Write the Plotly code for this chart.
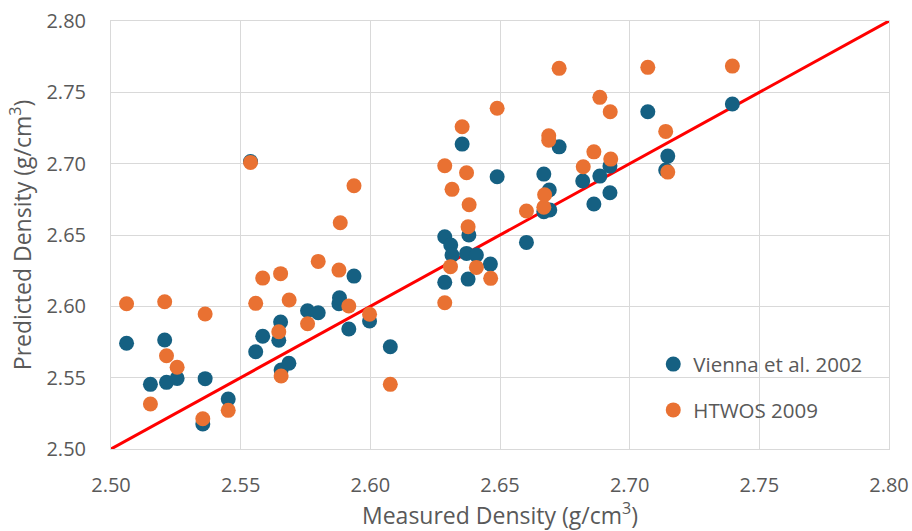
import plotly.graph_objects as go

# Measured vs predicted glass density, two literature models
vienna_measured = [
    2.5060, 2.5152, 2.5207, 2.5214, 2.5255, 2.5354, 2.5363, 2.5452, 2.5538, 2.5558,
    2.5585, 2.5647, 2.5654, 2.5656, 2.5686, 2.5758, 2.5799, 2.5879, 2.5881, 2.5917,
    2.5937, 2.5997, 2.6077, 2.6287, 2.6310, 2.6315, 2.6287, 2.6354, 2.6371, 2.6377,
    2.6380, 2.6409, 2.6463, 2.6489, 2.6602, 2.6669, 2.6669, 2.6690, 2.6692, 2.6728,
    2.6819, 2.6862, 2.6885, 2.6924, 2.6924, 2.7070, 2.7139, 2.7147, 2.7396,
]
vienna_predicted = [
    2.5741, 2.5453, 2.5764, 2.5467, 2.5495, 2.5175, 2.5493, 2.5350, 2.7015, 2.5682,
    2.5790, 2.5762, 2.5890, 2.5554, 2.5601, 2.5969, 2.5955, 2.6018, 2.6060, 2.5841,
    2.6212, 2.5897, 2.5717, 2.6488, 2.6430, 2.6360, 2.6168, 2.7137, 2.6371, 2.6191,
    2.6500, 2.6360, 2.6296, 2.6908, 2.6448, 2.6927, 2.6663, 2.6815, 2.6675, 2.7118,
    2.6878, 2.6717, 2.6913, 2.6983, 2.6796, 2.7364, 2.6955, 2.7053, 2.7418,
]

htwos_measured = [
    2.5060, 2.5152, 2.5207, 2.5214, 2.5255, 2.5354, 2.5363, 2.5452, 2.5538, 2.5558,
    2.5585, 2.5647, 2.5654, 2.5656, 2.5687, 2.5758, 2.5799, 2.5879, 2.5884, 2.5917,
    2.5937, 2.5997, 2.6077, 2.6287, 2.6315, 2.6309, 2.6287, 2.6354, 2.6371, 2.6377,
    2.6381, 2.6409, 2.6464, 2.6489, 2.6602, 2.6669, 2.6672, 2.6688, 2.6688, 2.6728,
    2.6821, 2.6862, 2.6885, 2.6925, 2.6927, 2.7070, 2.7139, 2.7147, 2.7396,
]
htwos_predicted = [
    2.6018, 2.5315, 2.6032, 2.5654, 2.5573, 2.5212, 2.5946, 2.5271, 2.7009, 2.6021,
    2.6198, 2.5822, 2.6229, 2.5512, 2.6044, 2.5878, 2.6315, 2.6254, 2.6586, 2.6002,
    2.6845, 2.5944, 2.5453, 2.6985, 2.6820, 2.6278, 2.6025, 2.7259, 2.6936, 2.6558,
    2.6712, 2.6273, 2.6196, 2.7388, 2.6668, 2.6694, 2.6782, 2.7196, 2.7165, 2.7668,
    2.6978, 2.7083, 2.7465, 2.7364, 2.7032, 2.7675, 2.7226, 2.6941, 2.7684,
]

# 1:1 reference line
parity = [2.50, 2.80]
tick_vals = [2.50, 2.55, 2.60, 2.65, 2.70, 2.75, 2.80]
tick_text = ["2.50", "2.55", "2.60", "2.65", "2.70", "2.75", "2.80"]

FONT = "Open Sans"
TEXT = "#595959"
GRID = "#D9D9D9"

fig = go.Figure()
fig.add_trace(go.Scatter(
    x=parity, y=parity, mode="lines",
    line=dict(color="#FF0000", width=3),
    showlegend=False, hoverinfo="skip",
))
fig.add_trace(go.Scatter(
    x=vienna_measured, y=vienna_predicted, mode="markers",
    name="Vienna et al. 2002",
    marker=dict(color="#156082", size=15, line=dict(width=0)),
    legend="legend",
))
fig.add_trace(go.Scatter(
    x=htwos_measured, y=htwos_predicted, mode="markers",
    name="HTWOS 2009",
    marker=dict(color="#E97132", size=15, line=dict(width=0)),
    legend="legend2",
))

axis_common = dict(
    range=[2.50, 2.80],
    tickvals=tick_vals, ticktext=tick_text,
    showgrid=True, gridcolor=GRID, gridwidth=1,
    showline=True, linecolor=GRID, linewidth=1, mirror=True,
    zeroline=False, ticks="", automargin=False,
    tickfont=dict(family=FONT, size=20, color=TEXT),
)

legend_common = dict(
    font=dict(family=FONT, size=20.5, color=TEXT),
    bgcolor="rgba(0,0,0,0)", borderwidth=0,
    xanchor="left", yanchor="middle",
)

fig.update_layout(
    width=912, height=531,
    margin=dict(l=111, r=23, t=21, b=82),
    paper_bgcolor="white", plot_bgcolor="white",
    xaxis=dict(
        **axis_common,
        ticklabelstandoff=18,
        title=dict(text="Measured Density (g/cm<sup>3</sup>)",
                   font=dict(family=FONT, size=23, color=TEXT), standoff=4),
    ),
    yaxis=dict(
        **axis_common,
        ticklabelstandoff=20,
        title=dict(text="Predicted Density (g/cm<sup>3</sup>)",
                   font=dict(family=FONT, size=23, color=TEXT), standoff=8),
    ),
    legend=dict(**legend_common, x=0.697, y=0.198),
    legend2=dict(**legend_common, x=0.697, y=0.091),
    showlegend=True,
)

fig.write_html("out.html")
